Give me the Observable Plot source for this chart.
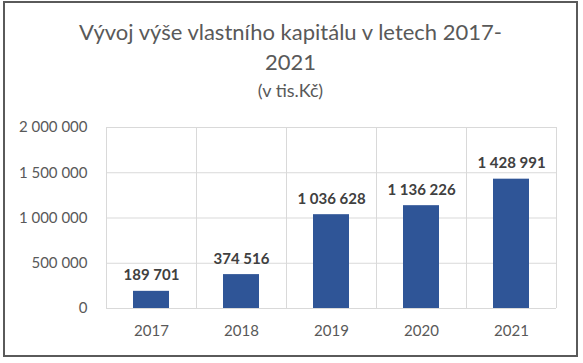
<!DOCTYPE html>
<html>
<head>
<meta charset="utf-8">
<script src="https://cdn.jsdelivr.net/npm/d3@7"></script>
<script src="https://cdn.jsdelivr.net/npm/@observablehq/plot@0.6"></script>
<style>
  html, body { margin: 0; padding: 0; background: #fff; }
  #frame { position: absolute; left: 3px; top: 1px; width: 575px; height: 356px; box-sizing: border-box; border: 2px solid #5a5a5a; background: #fff; font-family: Lato, "Open Sans", sans-serif; }
  .t { position: absolute; left: 0; width: 571px; text-align: center; color: #595959; white-space: nowrap; line-height: 1.2; }
  #t1 { top: 16px; font-size: 22px; }
  #t2 { top: 46px; font-size: 22px; }
  #t3 { top: 77px; font-size: 18px; }
  #chart { position: absolute; left: 0; top: 107px; }
</style>
</head>
<body>
<div id="frame">
  <div class="t" id="t1">Vývoj výše vlastního kapitálu v letech 2017-</div>
  <div class="t" id="t2">2021</div>
  <div class="t" id="t3">(v tis.Kč)</div>
  <div id="chart"></div>
</div>
<script>
const years = ["2017", "2018", "2019", "2020", "2021"];
const values = [189701, 374516, 1036628, 1136226, 1428991];
const yTicks = [0, 500000, 1000000, 1500000, 2000000];

const data = years.map((y, i) => ({year: y, value: values[i]}));
const fmt = v => d3.format(",")(v).replace(/,/g, " ");

function bandLines(index, scales, vals, dims) {
  const x = scales.x, y = scales.y;
  const step = typeof x.step === "function" ? x.step() : (dims.width - dims.marginLeft - dims.marginRight) / years.length;
  const bw = typeof x.bandwidth === "function" ? x.bandwidth() : 0;
  const xs = years.map(c => x(c) + bw / 2 - step / 2);
  xs.push(xs[xs.length - 1] + step);
  const g = d3.create("svg:g").attr("stroke", "#d9d9d9").attr("stroke-width", 1);
  for (const v of xs) {
    const px = Math.round(v) + 0.5;
    g.append("line").attr("x1", px).attr("x2", px)
      .attr("y1", y(yTicks[0])).attr("y2", y(yTicks[yTicks.length - 1]));
  }
  return g.node();
}

const plot = Plot.plot({
  width: 571,
  height: 245,
  marginLeft: 101,
  marginRight: 20,
  marginTop: 17,
  marginBottom: 47,
  style: {fontFamily: "Lato, 'Open Sans', sans-serif", fontSize: "15px", color: "#595959", background: "transparent"},
  x: {domain: years, paddingInner: 0.6, paddingOuter: 0.3, label: null},
  y: {domain: [0, 2000000], label: null},
  marks: [
    Plot.ruleY(yTicks, {stroke: "#d9d9d9", strokeOpacity: 1}),
    bandLines,
    Plot.barY(data, {x: "year", y: "value", fill: "#2f5597"}),
    Plot.text(data, {x: "year", y: "value", text: d => fmt(d.value), lineAnchor: "bottom", dy: -11, fontWeight: "bold", fontSize: 15, fill: "#404040"}),
    Plot.axisY({ticks: yTicks, tickFormat: fmt, tickSize: 0, tickPadding: 19, fontSize: 15, fill: "#595959"}),
    Plot.axisX({tickSize: 0, tickPadding: 17, fontSize: 15, fill: "#595959"})
  ]
});
document.getElementById("chart").appendChild(plot);
</script>
</body>
</html>
